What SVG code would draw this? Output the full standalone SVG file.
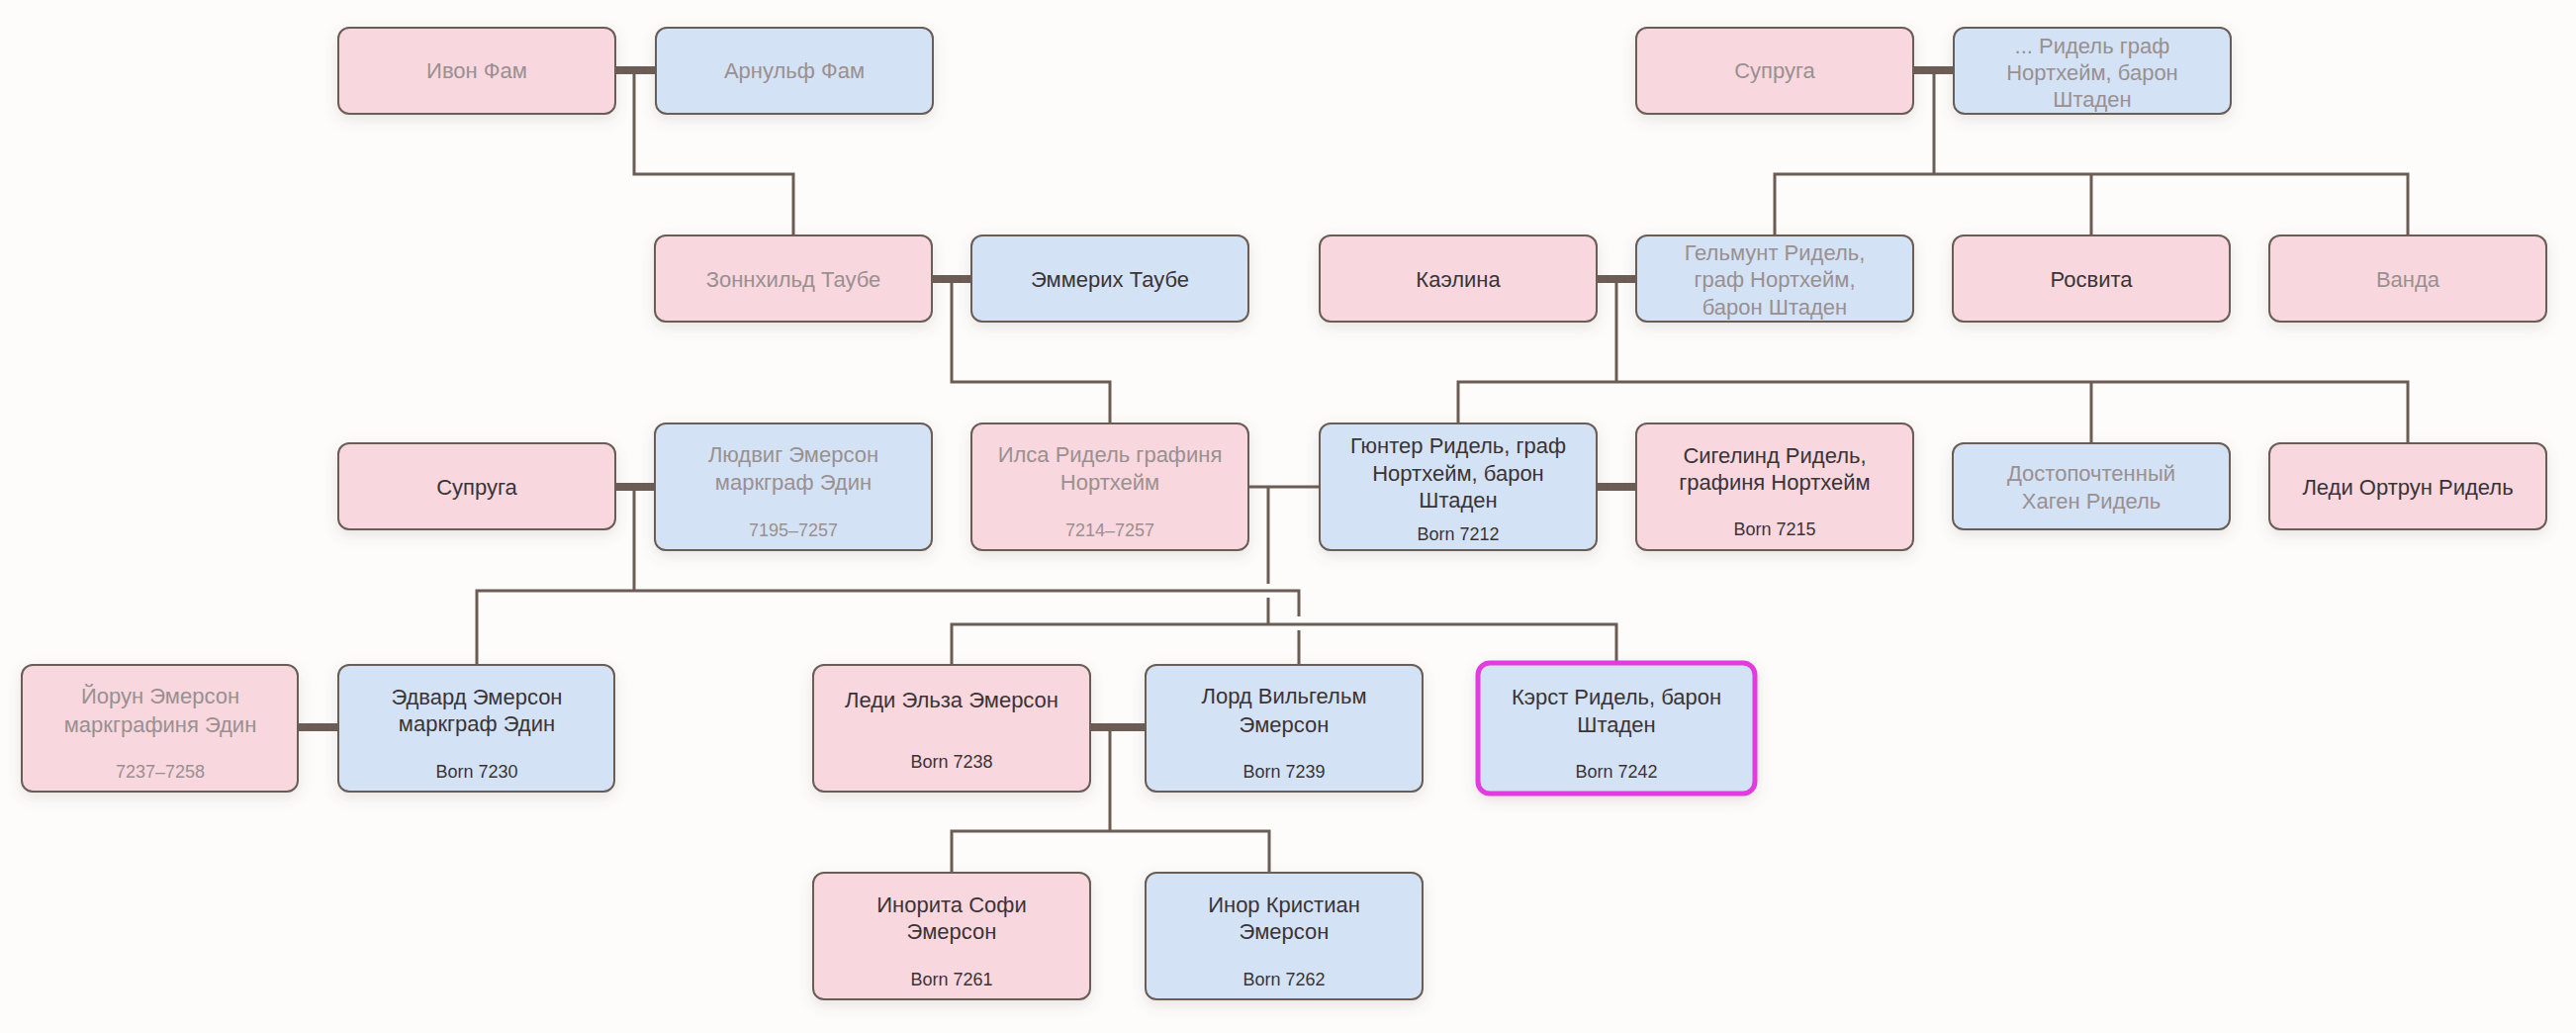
<svg xmlns="http://www.w3.org/2000/svg" width="2604" height="1044" viewBox="0 0 2604 1044">
<defs>
<filter id="sh" x="-20%" y="-20%" width="140%" height="160%"><feDropShadow dx="0" dy="5" stdDeviation="7" flood-color="#6b5d55" flood-opacity="0.15"/></filter>
<style>
.f{fill:#f8d7de;stroke:#6b5d55;stroke-width:2}
.m{fill:#d3e3f5;stroke:#6b5d55;stroke-width:2}
.hl{stroke:#e23ae0;stroke-width:5}
text{font-family:"Liberation Sans",Arial,sans-serif;font-size:22px;text-anchor:middle;fill:#3b3336}
text.b{font-size:18px}
.d text{fill:#9a8f91}
.l{fill:none;stroke:#6b5d55;stroke-width:3}
.c{fill:none;stroke:#6b5d55;stroke-width:8}
</style>
</defs>
<rect width="2604" height="1044" fill="#fdfcfb"/>
<g id="connectors">
<path class="c" d="M621 71H663M1933 71H1975M942 282H982M1614 282H1654M621 492H662M1614 492H1654M301 735H342M1102 735H1158"/>
<path class="l" d="M641 71V176H802V238M962 282V386H1122V428M1955 71V176M1794 238V176H2434V238M2114 176V238M1634 282V386M1474 428V386H2434V448M2114 386V448M641 492V597M482 672V597H1313V623M1313 637V672M1262 492H1334M1282 492V590M1282 604V631M962 672V631H1634V668M1122 735V840M962 882V840H1283V882"/>
</g>
<g id="n1" class="d"><rect class="f" x="342" y="28" width="280" height="87" rx="11" filter="url(#sh)"/><text x="482" y="79">Ивон Фам</text></g>
<g id="n2" class="d"><rect class="m" x="663" y="28" width="280" height="87" rx="11" filter="url(#sh)"/><text x="803" y="79">Арнульф Фам</text></g>
<g id="n3" class="d"><rect class="f" x="1654" y="28" width="280" height="87" rx="11" filter="url(#sh)"/><text x="1794" y="79">Супруга</text></g>
<g id="n4" class="d"><rect class="m" x="1975" y="28" width="280" height="87" rx="11" filter="url(#sh)"/><text x="2115" y="54">... Ридель граф</text><text x="2115" y="81">Нортхейм, барон</text><text x="2115" y="108">Штаден</text></g>
<g id="n5" class="d"><rect class="f" x="662" y="238" width="280" height="87" rx="11" filter="url(#sh)"/><text x="802" y="290">Зоннхильд Таубе</text></g>
<g id="n6"><rect class="m" x="982" y="238" width="280" height="87" rx="11" filter="url(#sh)"/><text x="1122" y="290">Эммерих Таубе</text></g>
<g id="n7"><rect class="f" x="1334" y="238" width="280" height="87" rx="11" filter="url(#sh)"/><text x="1474" y="290">Каэлина</text></g>
<g id="n8" class="d"><rect class="m" x="1654" y="238" width="280" height="87" rx="11" filter="url(#sh)"/><text x="1794" y="263">Гельмунт Ридель,</text><text x="1794" y="290">граф Нортхейм,</text><text x="1794" y="318">барон Штаден</text></g>
<g id="n9"><rect class="f" x="1974" y="238" width="280" height="87" rx="11" filter="url(#sh)"/><text x="2114" y="290">Росвита</text></g>
<g id="n10" class="d"><rect class="f" x="2294" y="238" width="280" height="87" rx="11" filter="url(#sh)"/><text x="2434" y="290">Ванда</text></g>
<g id="n11"><rect class="f" x="342" y="448" width="280" height="87" rx="11" filter="url(#sh)"/><text x="482" y="500">Супруга</text></g>
<g id="n12" class="d"><rect class="m" x="662" y="428" width="280" height="128" rx="11" filter="url(#sh)"/><text x="802" y="467">Людвиг Эмерсон</text><text x="802" y="495">маркграф Эдин</text><text class="b" x="802" y="542">7195–7257</text></g>
<g id="n13" class="d"><rect class="f" x="982" y="428" width="280" height="128" rx="11" filter="url(#sh)"/><text x="1122" y="467">Илса Ридель графиня</text><text x="1122" y="495">Нортхейм</text><text class="b" x="1122" y="542">7214–7257</text></g>
<g id="n14"><rect class="m" x="1334" y="428" width="280" height="128" rx="11" filter="url(#sh)"/><text x="1474" y="458">Гюнтер Ридель, граф</text><text x="1474" y="486">Нортхейм, барон</text><text x="1474" y="513">Штаден</text><text class="b" x="1474" y="546">Born 7212</text></g>
<g id="n15"><rect class="f" x="1654" y="428" width="280" height="128" rx="11" filter="url(#sh)"/><text x="1794" y="468">Сигелинд Ридель,</text><text x="1794" y="495">графиня Нортхейм</text><text class="b" x="1794" y="541">Born 7215</text></g>
<g id="n16" class="d"><rect class="m" x="1974" y="448" width="280" height="87" rx="11" filter="url(#sh)"/><text x="2114" y="486">Достопочтенный</text><text x="2114" y="514">Хаген Ридель</text></g>
<g id="n17"><rect class="f" x="2294" y="448" width="280" height="87" rx="11" filter="url(#sh)"/><text x="2434" y="500">Леди Ортрун Ридель</text></g>
<g id="n18" class="d"><rect class="f" x="22" y="672" width="279" height="128" rx="11" filter="url(#sh)"/><text x="162" y="711">Йорун Эмерсон</text><text x="162" y="740">маркграфиня Эдин</text><text class="b" x="162" y="786">7237–7258</text></g>
<g id="n19"><rect class="m" x="342" y="672" width="279" height="128" rx="11" filter="url(#sh)"/><text x="482" y="712">Эдвард Эмерсон</text><text x="482" y="739">маркграф Эдин</text><text class="b" x="482" y="786">Born 7230</text></g>
<g id="n20"><rect class="f" x="822" y="672" width="280" height="128" rx="11" filter="url(#sh)"/><text x="962" y="715">Леди Эльза Эмерсон</text><text class="b" x="962" y="776">Born 7238</text></g>
<g id="n21"><rect class="m" x="1158" y="672" width="280" height="128" rx="11" filter="url(#sh)"/><text x="1298" y="711">Лорд Вильгельм</text><text x="1298" y="740">Эмерсон</text><text class="b" x="1298" y="786">Born 7239</text></g>
<g id="n22"><rect class="m hl" x="1494" y="670" width="280" height="132" rx="12" filter="url(#sh)"/><text x="1634" y="712">Кэрст Ридель, барон</text><text x="1634" y="740">Штаден</text><text class="b" x="1634" y="786">Born 7242</text></g>
<g id="n23"><rect class="f" x="822" y="882" width="280" height="128" rx="11" filter="url(#sh)"/><text x="962" y="922">Инорита Софи</text><text x="962" y="949">Эмерсон</text><text class="b" x="962" y="996">Born 7261</text></g>
<g id="n24"><rect class="m" x="1158" y="882" width="280" height="128" rx="11" filter="url(#sh)"/><text x="1298" y="922">Инор Кристиан</text><text x="1298" y="949">Эмерсон</text><text class="b" x="1298" y="996">Born 7262</text></g>
</svg>
